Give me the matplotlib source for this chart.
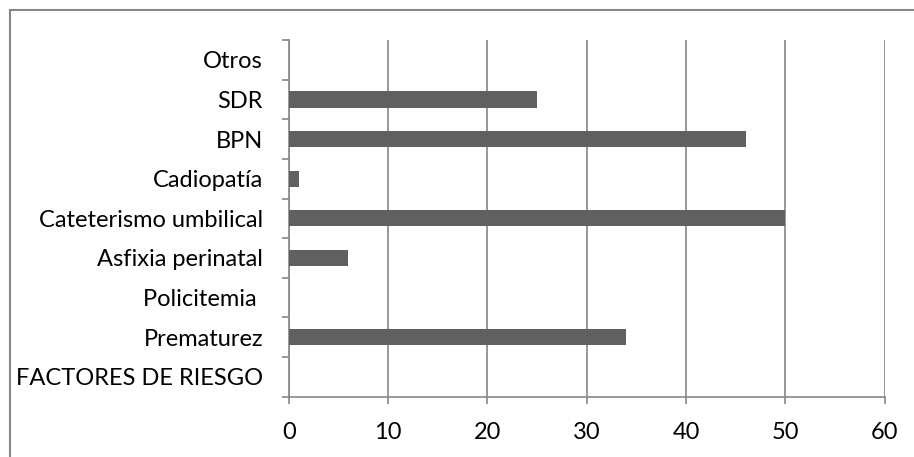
import matplotlib.pyplot as plt
from matplotlib.patches import Rectangle

# risk factor counts (bottom to top)
categories = ["FACTORES DE RIESGO", "Prematurez", "Policitemia ", "Asfixia perinatal",
              "Cateterismo umbilical", "Cadiopatía", "BPN", "SDR", "Otros"]
values = [0, 34, 0, 6, 50, 1, 46, 25, 0]
x_ticks = [0, 10, 20, 30, 40, 50, 60]

plt.rcParams['font.family'] = ['Lato', 'DejaVu Sans']

grid_col = "#868686"
bar_col = "#606060"

fig = plt.figure(figsize=(9.14, 4.57), dpi=100)
ax = fig.add_axes([288.7 / 914, 1 - 396.7 / 457, 596 / 914, 356.7 / 457])

pos = list(range(len(categories)))
ax.barh(pos, values, height=0.41, color=bar_col, zorder=3)

ax.set_xlim(0, 60)
ax.set_ylim(-0.5, len(categories) - 0.5)
ax.set_xticks(x_ticks)
ax.set_xticklabels([str(t) for t in x_ticks])

# category labels sit between the boundary ticks
ax.set_yticks([p - 0.5 for p in pos] + [len(categories) - 0.5])
ax.set_yticklabels([])
ax.set_yticks(pos, minor=True)
ax.set_yticklabels(categories, minor=True)
ax.tick_params(axis="y", which="minor", length=0, pad=18.5, labelsize=17)
ax.tick_params(axis="y", which="major", length=5, width=1.2, color=grid_col, direction="out")
ax.tick_params(axis="x", length=5, width=1.2, color=grid_col, direction="out", pad=13, labelsize=17)

ax.grid(axis="x", color=grid_col, linewidth=1.2, zorder=0)
for side in ["top", "right"]:
    ax.spines[side].set_visible(False)
for side in ["left", "bottom"]:
    ax.spines[side].set_color(grid_col)
    ax.spines[side].set_linewidth(1.2)

# chart frame
fig.patches.append(Rectangle((10 / 914, -0.05), 1.2, 1 - 10 / 457 + 0.05,
                             transform=fig.transFigure, fill=False,
                             edgecolor=grid_col, linewidth=1.5))

fig.savefig("out.png", dpi=100)
